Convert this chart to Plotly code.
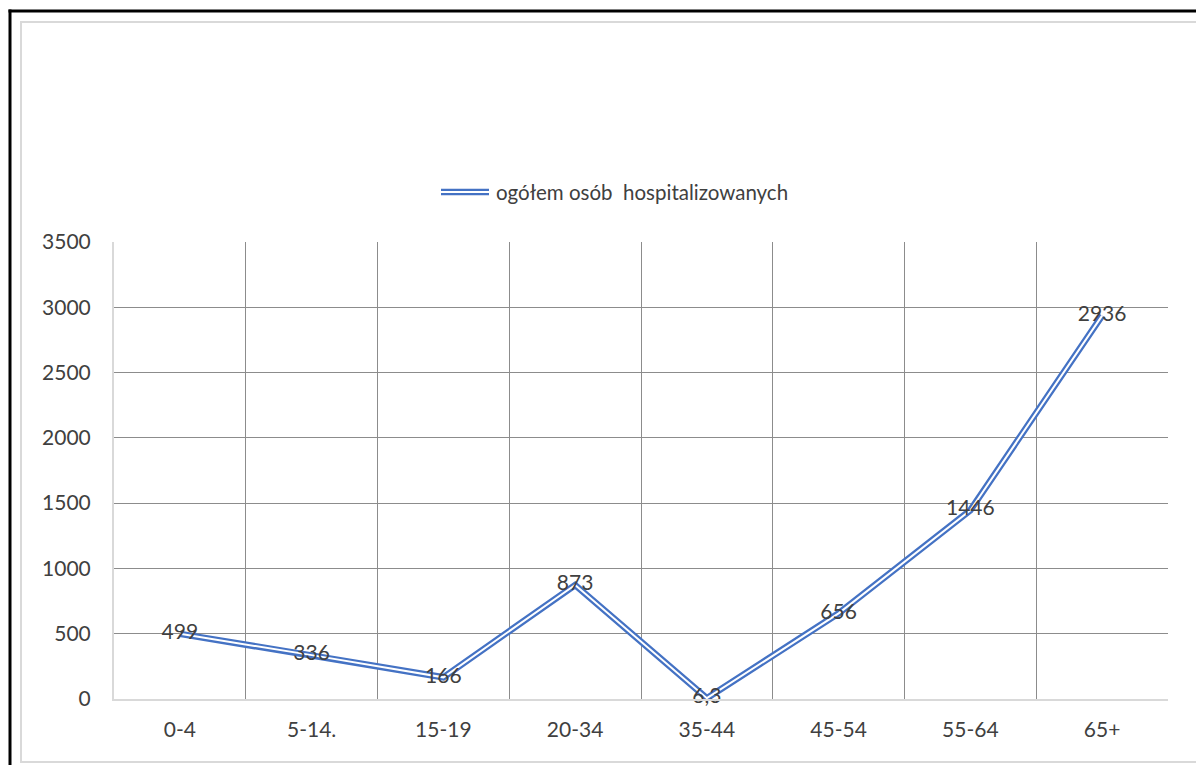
import plotly.graph_objects as go

categories = ["0-4", "5-14.", "15-19", "20-34", "35-44", "45-54", "55-64", "65+"]
values = [499, 336, 166, 873, 6.3, 656, 1446, 2936]
value_labels = ["499", "336", "166", "873", "6,3", "656", "1446", "2936"]
series_name = "ogółem osób  hospitalizowanych"
y_ticks = [0, 500, 1000, 1500, 2000, 2500, 3000, 3500]

W, H = 1196, 765
L, R, T, B = 114, 28, 242, 66
pw, ph = W - L - R, H - T - B

def px(x):
    return (x - L) / pw

def py(y):
    return (H - B - y) / ph

BLUE = "#4472C4"
TXT = "#404040"
FONT = "Lato"

fig = go.Figure()
fig.add_trace(go.Scatter(x=categories, y=values, mode="lines",
                         line=dict(color=BLUE, width=6.5), showlegend=False,
                         hoverinfo="skip", cliponaxis=False))
fig.add_trace(go.Scatter(x=categories, y=values, mode="lines+text",
                         line=dict(color="white", width=2), showlegend=False,
                         text=value_labels, textposition="middle center",
                         textfont=dict(family=FONT, size=21, color=TXT),
                         cliponaxis=False, name=series_name))

shapes = []
# outer frame
shapes.append(dict(type="rect", xref="paper", yref="paper",
                   x0=px(21), x1=px(1205), y0=py(762), y1=py(22),
                   line=dict(color="#d9d9d9", width=2), layer="below"))
shapes.append(dict(type="line", xref="paper", yref="paper",
                   x0=px(10), x1=px(10), y0=py(9.5), y1=py(770),
                   line=dict(color="black", width=3)))
shapes.append(dict(type="line", xref="paper", yref="paper",
                   x0=px(8.5), x1=px(1205), y0=py(11), y1=py(11),
                   line=dict(color="black", width=3)))
# legend symbol (double line)
shapes.append(dict(type="line", xref="paper", yref="paper",
                   x0=px(441), x1=px(489), y0=py(192), y1=py(192),
                   line=dict(color=BLUE, width=6.5)))
shapes.append(dict(type="line", xref="paper", yref="paper",
                   x0=px(441), x1=px(489), y0=py(192), y1=py(192),
                   line=dict(color="white", width=2)))

fig.update_layout(
    width=W, height=H,
    margin=dict(l=L, r=R, t=T, b=B, pad=0),
    paper_bgcolor="white", plot_bgcolor="white",
    font=dict(family=FONT, color=TXT),
    shapes=shapes,
    annotations=[dict(xref="paper", yref="paper", x=px(494), y=py(192),
                      xanchor="left", yanchor="middle", showarrow=False,
                      text=series_name,
                      font=dict(family=FONT, size=20.5, color=TXT))],
    xaxis=dict(type="category", tickson="boundaries", showgrid=True,
               gridcolor="#8c8c8c", gridwidth=1, showline=True,
               linecolor="#d9d9d9", linewidth=2, ticks="", ticklabelstandoff=11,
               tickfont=dict(family=FONT, size=21, color=TXT),
               range=[-0.5, 7.5], fixedrange=True),
    yaxis=dict(range=[0, 3500], tickvals=y_ticks, showgrid=True,
               gridcolor="#8c8c8c", gridwidth=1, zeroline=False,
               showline=True, linecolor="#d9d9d9", linewidth=2,
               ticks="outside", ticklen=17, tickcolor="rgba(0,0,0,0)",
               tickfont=dict(family=FONT, size=21, color=TXT), fixedrange=True),
)

fig.write_html("out.html")
